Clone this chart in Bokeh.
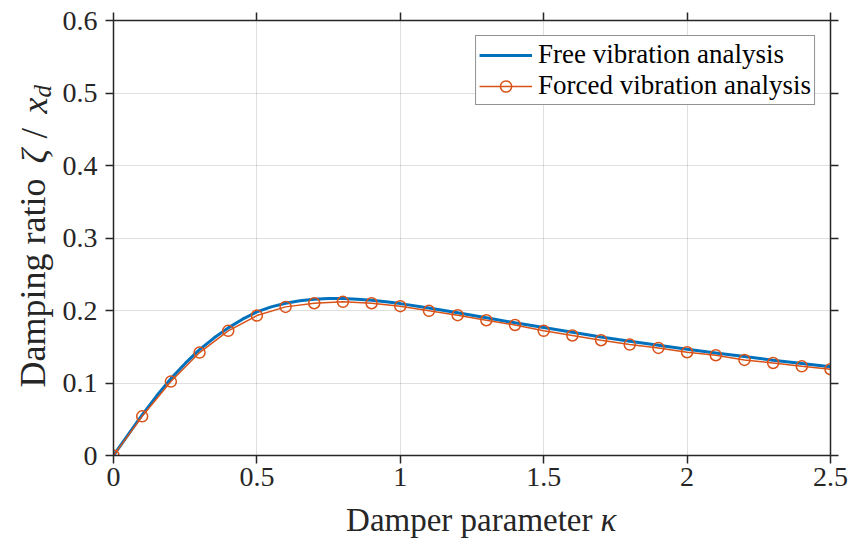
import math
from bokeh.plotting import figure
from bokeh.models import LinearAxis, FixedTicker, Range1d
from bokeh.layouts import row, column
from bokeh.core.properties import value
from bokeh.embed import file_html
from bokeh.resources import INLINE

# ---- data ----
kappa_free = [0, 0.05, 0.1, 0.15, 0.2, 0.25, 0.3, 0.35, 0.4, 0.45, 0.5, 0.55, 0.6, 0.65,
              0.7, 0.75, 0.8, 0.85, 0.9, 0.95, 1.0, 1.1, 1.2, 1.3, 1.4, 1.5, 1.6, 1.7,
              1.8, 1.9, 2.0, 2.1, 2.2, 2.3, 2.4, 2.5]
zeta_free = [0, 0.028, 0.056, 0.082, 0.106, 0.127, 0.146, 0.162, 0.176, 0.188, 0.198, 0.205,
             0.210, 0.2135, 0.2155, 0.2165, 0.2165, 0.2155, 0.214, 0.212, 0.2095, 0.2035,
             0.197, 0.190, 0.183, 0.1765, 0.170, 0.1635, 0.1575, 0.152, 0.1465, 0.1415,
             0.1365, 0.1315, 0.127, 0.1225]

kappa_forced = [0, 0.1, 0.2, 0.3, 0.4, 0.5, 0.6, 0.7, 0.8, 0.9, 1.0, 1.1, 1.2, 1.3, 1.4,
                1.5, 1.6, 1.7, 1.8, 1.9, 2.0, 2.1, 2.2, 2.3, 2.4, 2.5]
zeta_forced = [0, 0.054, 0.102, 0.142, 0.172, 0.193, 0.205, 0.210, 0.212, 0.210, 0.206,
               0.1995, 0.1936, 0.1866, 0.180, 0.172, 0.1655, 0.159, 0.153, 0.1484, 0.1424,
               0.1383, 0.1318, 0.1276, 0.123, 0.119]

x_ticks = [0, 0.5, 1, 1.5, 2, 2.5]
x_tick_labels = ["0", "0.5", "1", "1.5", "2", "2.5"]
y_ticks = [0, 0.1, 0.2, 0.3, 0.4, 0.5, 0.6]
y_tick_labels = ["0", "0.1", "0.2", "0.3", "0.4", "0.5", "0.6"]

series_names = ["Free vibration analysis", "Forced vibration analysis"]

# ---- layout sizes (pixels) ----
W, H = 848, 539
LEFT_W = 55          # strip holding the y title
BOTTOM_H = 40        # strip holding the x title
MAIN_W, MAIN_H = W - LEFT_W, H - BOTTOM_H
ML, MR, MT, MB = 113 - LEFT_W, 18, 20, MAIN_H - 455

AX = "#262626"
FONT = "Liberation Serif"
BLUE = "#0072BD"
ORANGE = "#D95319"

p = figure(width=MAIN_W, height=MAIN_H, x_range=Range1d(0, 2.5), y_range=Range1d(0, 0.6),
           output_backend="svg", toolbar_location=None, frame_align=False,
           min_border_left=ML, min_border_right=MR, min_border_top=MT, min_border_bottom=MB,
           background_fill_color="white", border_fill_color="white")
p.outline_line_color = None


def style_axis(ax, ticks, labels, show_labels=True):
    ax.ticker = FixedTicker(ticks=ticks)
    ax.major_label_overrides = {t: (l if show_labels else "") for t, l in zip(ticks, labels)}
    ax.axis_line_color = AX
    ax.axis_line_width = 1.5
    ax.major_tick_line_color = AX
    ax.major_tick_line_width = 1.5
    ax.major_tick_out = 8
    ax.major_tick_in = 0
    ax.minor_tick_line_color = None
    ax.major_label_text_font = FONT
    ax.major_label_text_color = AX
    if show_labels:
        ax.major_label_text_font_size = "28px"
    else:
        ax.major_label_text_font_size = "1px"
        ax.major_label_standoff = 0


style_axis(p.xaxis[0], x_ticks, x_tick_labels)
style_axis(p.yaxis[0], y_ticks, y_tick_labels)
p.xaxis[0].major_label_standoff = 4
p.yaxis[0].major_label_standoff = 8

top = LinearAxis()
style_axis(top, x_ticks, x_tick_labels, show_labels=False)
p.add_layout(top, "above")
right = LinearAxis()
style_axis(right, y_ticks, y_tick_labels, show_labels=False)
p.add_layout(right, "right")

p.xgrid.ticker = FixedTicker(ticks=x_ticks)
p.ygrid.ticker = FixedTicker(ticks=y_ticks)
for g in (p.xgrid, p.ygrid):
    g.grid_line_color = AX
    g.grid_line_alpha = 0.15
    g.grid_line_width = 1

p.line(kappa_free, zeta_free, line_color=BLUE, line_width=3, legend_label=series_names[0])
p.line(kappa_forced, zeta_forced, line_color=ORANGE, line_width=1.5, legend_label=series_names[1])
p.scatter(kappa_forced, zeta_forced, marker="circle", size=11, fill_color=None,
          line_color=ORANGE, line_width=1.5, legend_label=series_names[1])

lg = p.legend[0]
lg.location = "top_right"
lg.margin = 15
lg.padding = 3
lg.spacing = 0
lg.glyph_width = 53
lg.glyph_height = 28
lg.label_height = 28
lg.label_standoff = 6
lg.label_text_font = FONT
lg.label_text_font_size = "27px"
lg.label_text_color = "black"
lg.border_line_color = AX
lg.border_line_width = 1
lg.background_fill_color = "white"
lg.background_fill_alpha = 1


def strip(w, h):
    f = figure(width=w, height=h, x_range=Range1d(0, w), y_range=Range1d(0, h),
               x_axis_type=None, y_axis_type=None, output_backend="svg",
               toolbar_location=None, min_border=0, frame_align=False,
               background_fill_color="white", border_fill_color="white")
    f.outline_line_color = None
    f.grid.visible = False
    return f


def put(f, text, px, py, size, italic=False, align="left", angle=0.0):
    # px, py: pixel position of the text baseline, measured from the strip's top-left
    # corner; the renderer anchors text about 0.3 em above where we ask, so compensate.
    s = float(size.replace("px", ""))
    off = 0.3 * s
    if angle:
        px = px - off
    else:
        py = py - off
    f.text(x=[px], y=[f.height - py], text=[text], text_font=value(FONT),
           text_font_size=value(size), text_font_style="italic" if italic else "normal",
           text_color=AX, text_align=align, text_baseline="alphabetic", angle=angle)


# y title strip (left)
ys = strip(LEFT_W, H)
R = math.pi / 2
put(ys, "Damping ratio", 43, 387, "36px", angle=R)
put(ys, "\u03b6", 45, 163, "36px", italic=True, angle=R)
put(ys, "/", 45, 138, "38px", angle=R)
put(ys, "x", 45, 113, "36px", italic=True, angle=R)
put(ys, "d", 49, 97, "25px", italic=True, angle=R)

# x title strip (bottom)
xs = strip(MAIN_W, BOTTOM_H)
put(xs, "Damper parameter", 592 - LEFT_W, 529 - MAIN_H, "33px", align="right")
put(xs, "\u03ba", 600 - LEFT_W, 529 - MAIN_H, "33px", italic=True)

layout = row(ys, column(p, xs))
open("out.html", "w").write(file_html(layout, INLINE))
